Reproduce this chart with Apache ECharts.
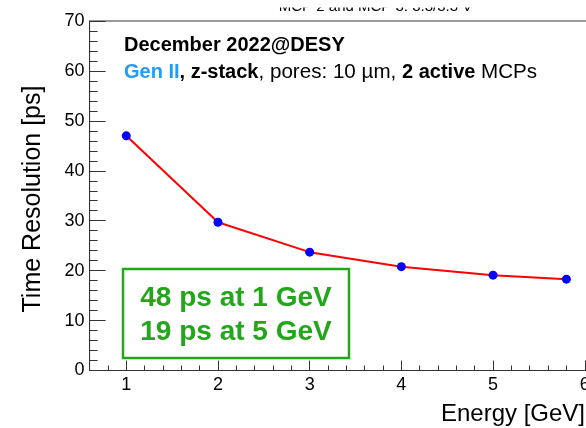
<!DOCTYPE html>
<html>
<head>
<meta charset="utf-8">
<script src="https://cdn.jsdelivr.net/npm/echarts@6/dist/echarts.min.js"></script>
<style>
  html, body { margin: 0; padding: 0; background: #fff; }
  #chart { width: 586px; height: 428px; }
</style>
</head>
<body>
<div id="chart"></div>
<script>
// Beam energy [GeV] and measured time resolution [ps]
const energies = [1, 2, 3, 4, 5, 5.8];
const resolution = [47.0, 29.7, 23.7, 20.8, 19.1, 18.3];

// Axis tick values
const xMajorTicks = [1, 2, 3, 4, 5, 6];
const yMajorTicks = [0, 10, 20, 30, 40, 50, 60, 70];

// Text blocks
const headerLine = 'December 2022@DESY';
const setupParts = [
  ['blue', 'Gen II'],
  ['bold', ', z-stack'],
  ['norm', ', pores: 10 µm, '],
  ['bold', '2 active'],
  ['norm', ' MCPs']
];
const summaryLines = ['48 ps at 1 GeV', '19 ps at 5 GeV'];
const topNote = 'MCP 2 and MCP 3: 3.3/3.3 V';

const X_MIN = 0.6, X_MAX = 6.2;
const xMinorTicks = [];
for (let v = 6; v <= 62; v += 2) xMinorTicks.push(v / 10);

const FONT = '"Liberation Sans", Arial, Helvetica, sans-serif';
const GREEN = '#22a61a';

const chart = echarts.init(document.getElementById('chart'), null, { renderer: 'canvas' });

// the frame runs past the right edge of the canvas
const gridLeft = 89.6, gridTop = 21, gridHeight = 349.5;
const gridWidth = 513.5;

const points = energies.map((e, i) => [e, resolution[i]]);

const option = {
  backgroundColor: '#ffffff',
  animation: false,
  grid: {
    left: gridLeft, top: gridTop, width: gridWidth, height: gridHeight,
    outerBoundsMode: 'none', containLabel: false,
    show: true, borderColor: '#333', borderWidth: 1, backgroundColor: 'transparent'
  },
  xAxis: [
    {
      type: 'value', min: X_MIN, max: X_MAX,
      axisLine: { show: true, onZero: false, lineStyle: { color: '#333', width: 1 } },
      axisTick: { show: true, inside: true, length: 10, customValues: xMajorTicks, lineStyle: { color: '#333' } },
      axisLabel: {
        customValues: xMajorTicks, color: '#000', fontSize: 18, fontFamily: FONT, margin: 6,
        showMinLabel: true, showMaxLabel: true
      },
      splitLine: { show: false }
    },
    {
      type: 'value', min: X_MIN, max: X_MAX, position: 'bottom',
      axisLine: { show: false },
      axisTick: { show: true, inside: true, length: 5, customValues: xMinorTicks, lineStyle: { color: '#333' } },
      axisLabel: { show: false },
      splitLine: { show: false }
    }
  ],
  yAxis: {
    type: 'value', min: 0, max: 70, interval: 10,
    axisLine: { show: true, lineStyle: { color: '#333', width: 1 } },
    axisTick: { show: true, inside: true, length: 16, lineStyle: { color: '#333' } },
    minorTick: { show: true, splitNumber: 5, length: 8, lineStyle: { color: '#333' } },
    axisLabel: {
      color: '#000', fontSize: 18, fontFamily: FONT, margin: 5,
      formatter: v => (yMajorTicks.indexOf(v) >= 0 ? String(v) : '')
    },
    splitLine: { show: false },
    minorSplitLine: { show: false }
  },
  series: [{
    type: 'line',
    xAxisIndex: 0,
    data: points,
    lineStyle: { color: '#ff0000', width: 2 },
    itemStyle: { color: '#0000ff' },
    symbol: 'circle',
    symbolSize: 9,
    showSymbol: true,
    z: 5
  }],
  graphic: [
    // partially hidden note along the top edge
    {
      type: 'text', z: 10,
      style: {
        x: 375.5, y: 12.5 - 0.36 * 15, text: topNote, fill: '#000',
        font: '15px ' + FONT, align: 'center', verticalAlign: 'middle'
      }
    },
    {
      type: 'rect', z: 20,
      shape: { x: 0, y: 0, width: 586, height: 7.5 },
      style: { fill: '#ffffff' }
    },
    // Y axis title
    {
      type: 'text', z: 10, x: 33, y: 199, rotation: Math.PI / 2,
      style: {
        x: 0, y: 0, text: 'Time Resolution [ps]', fill: '#000',
        font: '25px ' + FONT, align: 'center', verticalAlign: 'middle'
      }
    },
    // X axis title
    {
      type: 'text', z: 10,
      style: {
        x: 585, y: 423 - 0.36 * 24, text: 'Energy [GeV]', fill: '#000',
        font: '24px ' + FONT, align: 'right', verticalAlign: 'middle'
      }
    },
    // header lines
    {
      type: 'text', z: 10,
      style: {
        x: 124, y: 53 - 0.36 * 20, text: headerLine, fill: '#000',
        font: 'bold 20px ' + FONT, align: 'left', verticalAlign: 'middle'
      }
    },
    {
      type: 'text', z: 10,
      style: {
        x: 124, y: 80 - 0.36 * 20,
        text: setupParts.map(p => '{' + p[0] + '|' + p[1] + '}').join(''),
        align: 'left', verticalAlign: 'middle',
        rich: {
          blue: { fill: '#1e9cff', font: 'bold 20px ' + FONT },
          bold: { fill: '#000', font: 'bold 20px ' + FONT },
          norm: { fill: '#000', font: '20.6px ' + FONT }
        }
      }
    },
    // summary box
    {
      type: 'rect', z: 10,
      shape: { x: 123, y: 269, width: 226, height: 89 },
      style: { fill: 'rgba(255,255,255,0)', stroke: GREEN, lineWidth: 2.5 }
    },
    {
      type: 'text', z: 11,
      style: {
        x: 236, y: 308 - 0.36 * 28, text: summaryLines[0], fill: GREEN,
        font: 'bold 28px ' + FONT, align: 'center', verticalAlign: 'middle'
      }
    },
    {
      type: 'text', z: 11,
      style: {
        x: 236, y: 342 - 0.36 * 28, text: summaryLines[1], fill: GREEN,
        font: 'bold 28px ' + FONT, align: 'center', verticalAlign: 'middle'
      }
    }
  ]
};

chart.setOption(option);
</script>
</body>
</html>
